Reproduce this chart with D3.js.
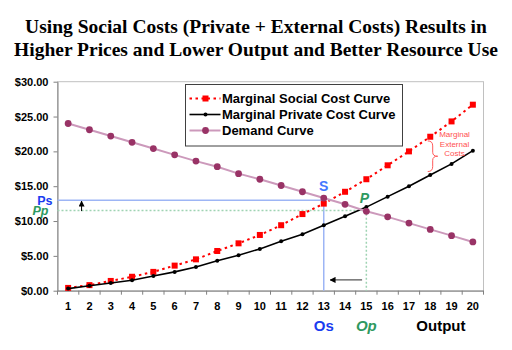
<!DOCTYPE html>
<html>
<head>
<meta charset="utf-8">
<script src="https://cdn.jsdelivr.net/npm/d3@7"></script>
<style>
  body { margin: 0; background: #fff; }
  svg { display: block; font-family: "Liberation Sans", Arial, sans-serif; }
</style>
</head>
<body>
<svg width="512" height="350"></svg>
<script>
'use strict';
// chart data
const output_levels = [1, 2, 3, 4, 5, 6, 7, 8, 9, 10, 11, 12, 13, 14, 15, 16, 17, 18, 19, 20];
const marginal_social_cost = [0.4, 0.8, 1.4, 2.0, 2.7, 3.6, 4.5, 5.7, 6.8, 8.0, 9.4, 11.0, 12.5, 14.2, 16.0, 18.0, 20.0, 22.1, 24.3, 26.7];
const marginal_private_cost = [0.3, 0.7, 1.1, 1.5, 2.1, 2.7, 3.4, 4.3, 5.1, 6.0, 7.1, 8.1, 9.4, 10.7, 12.0, 13.5, 15.0, 16.6, 18.2, 20.1];
const demand = [24.0, 23.1, 22.2, 21.3, 20.4, 19.5, 18.6, 17.8, 16.8, 16.0, 15.1, 14.2, 13.3, 12.4, 11.4, 10.6, 9.7, 8.8, 7.9, 7.0];
const y_ticks = [0, 5, 10, 15, 20, 25, 30];
const series_names = ['Marginal Social Cost Curve', 'Marginal Private Cost Curve', 'Demand Curve'];
const title_lines = ['Using Social Costs (Private + External Costs) Results in',
  'Higher Prices and Lower Output and Better Resource Use'];
const external_cost_lines = ['Marginal', 'External', 'Costs'];

// equilibrium points
const price_social = 13.0;
const price_private = 11.5;
const output_social = 13;
const output_private = 15;

const svg = d3.select('svg');
const plot = {left: 57.5, right: 483.5, top: 81.7, bottom: 290.7};

const x_scale = d3.scaleBand().domain(output_levels).range([plot.left, plot.right]);
const half_band = x_scale.bandwidth() / 2;
// continuous version of the category positions, for annotations
const x_lin = d3.scaleLinear().domain([1, 20]).range([x_scale(1) + half_band, x_scale(20) + half_band]);
const y_scale = d3.scaleLinear().domain([0, 30]).range([plot.bottom, plot.top]);

const defs = svg.append('defs');
defs.append('marker')
  .attr('id', 'head')
  .attr('viewBox', '0 0 10 10')
  .attr('refX', 9).attr('refY', 5)
  .attr('markerWidth', 6).attr('markerHeight', 6)
  .attr('markerUnits', 'userSpaceOnUse')
  .attr('orient', 'auto')
  .append('path').attr('d', 'M0,0L10,5L0,10Z').attr('fill', '#000');

//title
svg.append('g')
  .attr('font-family', '"Liberation Serif", "Times New Roman", serif')
  .attr('font-weight', 'bold')
  .attr('font-size', 19.5)
  .attr('text-anchor', 'middle')
  .selectAll('text').data(title_lines).enter()
  .append('text')
    .attr('x', 256)
    .attr('y', (d, i) => 33 + i * 23)
    .text(d => d);

//plot frame
svg.append('rect')
  .attr('x', plot.left).attr('y', plot.top)
  .attr('width', plot.right - plot.left).attr('height', plot.bottom - plot.top)
  .attr('fill', 'none').attr('stroke', '#c0c0c0');

//y axis
const y_axis = svg.append('g')
  .attr('transform', `translate(${plot.left},0)`)
  .call(d3.axisLeft(y_scale).tickValues(y_ticks).tickFormat(d3.format('$.2f'))
    .tickSize(4).tickSizeOuter(0).tickPadding(5))
  .attr('font-family', '"Liberation Sans", Arial, sans-serif')
  .attr('font-size', 11)
  .attr('font-weight', 'bold');
y_axis.selectAll('line,path').attr('stroke', '#808080');
y_axis.selectAll('text').attr('fill', '#000');

//x axis
const x_axis = svg.append('g')
  .attr('transform', `translate(0,${plot.bottom})`)
  .call(d3.axisBottom(x_scale).tickSize(0).tickSizeOuter(0).tickPadding(12))
  .attr('font-family', '"Liberation Sans", Arial, sans-serif')
  .attr('font-size', 11)
  .attr('font-weight', 'bold');
x_axis.selectAll('path').attr('stroke', '#808080');
x_axis.selectAll('text').attr('fill', '#000');
x_axis.selectAll('.edge').data(output_levels.map(q => x_scale(q)).concat([plot.right])).enter()
  .append('line')
    .attr('x1', d => d).attr('x2', d => d)
    .attr('y1', 0).attr('y2', 4)
    .attr('stroke', '#808080');

//equilibrium guide lines
svg.append('path')
  .attr('d', `M${plot.left},${y_scale(price_social)}H${x_lin(output_social)}V${plot.bottom}`)
  .attr('fill', 'none').attr('stroke', '#9db5f5').attr('stroke-width', 1.5);
svg.append('path')
  .attr('d', `M${plot.left},${y_scale(price_private)}H${x_lin(output_private)}V${plot.bottom}`)
  .attr('fill', 'none').attr('stroke', '#9fd3b3').attr('stroke-width', 1.5)
  .attr('stroke-dasharray', '2,2');

//arrows
svg.append('line')
  .attr('x1', x_lin(1.63)).attr('x2', x_lin(1.63))
  .attr('y1', y_scale(price_private) + 0.5).attr('y2', y_scale(price_social) + 1)
  .attr('stroke', '#000').attr('stroke-width', 1).attr('marker-end', 'url(#head)');
svg.append('line')
  .attr('x1', x_lin(14.8)).attr('x2', x_lin(13.3))
  .attr('y1', y_scale(1.55)).attr('y2', y_scale(1.55))
  .attr('stroke', '#555').attr('stroke-width', 1.2).attr('marker-end', 'url(#head)');

//series
const line = d3.line()
  .x((d, i) => x_scale(output_levels[i]) + half_band)
  .y(d => y_scale(d));

svg.append('path').datum(marginal_social_cost)
  .attr('d', line).attr('fill', 'none')
  .attr('stroke', '#ff0000').attr('stroke-width', 2).attr('stroke-dasharray', '2.5,3.5');
svg.append('g').selectAll('rect').data(marginal_social_cost).enter()
  .append('rect')
    .attr('x', (d, i) => x_scale(output_levels[i]) + half_band - 3)
    .attr('y', d => y_scale(d) - 3)
    .attr('width', 6).attr('height', 6)
    .attr('fill', '#ff0000');

svg.append('path').datum(marginal_private_cost)
  .attr('d', line).attr('fill', 'none')
  .attr('stroke', '#000').attr('stroke-width', 1.6);
svg.append('g').selectAll('circle').data(marginal_private_cost).enter()
  .append('circle')
    .attr('cx', (d, i) => x_scale(output_levels[i]) + half_band)
    .attr('cy', d => y_scale(d))
    .attr('r', 2)
    .attr('fill', '#000');

svg.append('path').datum(demand)
  .attr('d', line).attr('fill', 'none')
  .attr('stroke', '#cc99bb').attr('stroke-width', 2);
svg.append('g').selectAll('circle').data(demand).enter()
  .append('circle')
    .attr('cx', (d, i) => x_scale(output_levels[i]) + half_band)
    .attr('cy', d => y_scale(d))
    .attr('r', 3.4)
    .attr('fill', '#993366');

//marginal external cost brace
const bx = x_lin(17.88);
const by0 = y_scale(21.5);
const by1 = y_scale(17.1);
const bym = (by0 + by1) / 2;
svg.append('path')
  .attr('d', `M${bx},${by0}Q${bx + 5},${by0} ${bx + 5},${by0 + 5}L${bx + 5},${bym - 4}` +
    `Q${bx + 5},${bym} ${bx + 10},${bym}Q${bx + 5},${bym} ${bx + 5},${bym + 4}` +
    `L${bx + 5},${by1 - 5}Q${bx + 5},${by1} ${bx},${by1}`)
  .attr('fill', 'none').attr('stroke', '#ff5a5a').attr('stroke-width', 1);
svg.append('g')
  .attr('font-size', 8)
  .attr('fill', '#ff5050')
  .attr('text-anchor', 'middle')
  .selectAll('text').data(external_cost_lines).enter()
  .append('text')
    .attr('x', x_lin(19.14))
    .attr('y', (d, i) => y_scale(22.05) + i * 9.5)
    .text(d => d);

//point labels
svg.append('text')
  .attr('x', x_lin(output_social)).attr('y', y_scale(price_social) - 9)
  .attr('text-anchor', 'middle')
  .attr('font-size', 14).attr('font-weight', 'bold')
  .attr('fill', '#4477ff').text('S');
svg.append('text')
  .attr('x', x_lin(output_private) - 2).attr('y', y_scale(price_private) - 8)
  .attr('text-anchor', 'middle')
  .attr('font-size', 14).attr('font-weight', 'bold').attr('font-style', 'italic')
  .attr('fill', '#2e9960').text('P');

svg.append('text')
  .attr('x', plot.left - 5).attr('y', y_scale(price_social) + 4.5)
  .attr('text-anchor', 'end')
  .attr('font-size', 12.5).attr('font-weight', 'bold')
  .attr('fill', '#1a3cf0').text('Ps');
svg.append('text')
  .attr('x', plot.left - 9).attr('y', y_scale(price_private) + 4)
  .attr('text-anchor', 'end')
  .attr('font-size', 12.5).attr('font-weight', 'bold').attr('font-style', 'italic')
  .attr('fill', '#2e9960').text('Pp');

svg.append('text')
  .attr('x', x_lin(output_social)).attr('y', 331)
  .attr('text-anchor', 'middle')
  .attr('font-size', 15).attr('font-weight', 'bold')
  .attr('fill', '#1a3cf0').text('Os');
svg.append('text')
  .attr('x', x_lin(output_private)).attr('y', 331)
  .attr('text-anchor', 'middle')
  .attr('font-size', 15).attr('font-weight', 'bold').attr('font-style', 'italic')
  .attr('fill', '#2e9960').text('Op');
svg.append('text')
  .attr('x', x_lin(18.5)).attr('y', 331)
  .attr('text-anchor', 'middle')
  .attr('font-size', 15).attr('font-weight', 'bold')
  .attr('fill', '#000').text('Output');

//legend
const legend_g = svg.append('g').attr('transform', 'translate(185.5,84.5)');
legend_g.append('rect')
  .attr('width', 217).attr('height', 61.5)
  .attr('fill', '#fff').attr('stroke', '#404040');
const legend_rows = legend_g.selectAll('.row').data(series_names).enter()
  .append('g')
    .attr('transform', (d, i) => `translate(0,${14 + i * 16})`);
legend_rows.append('line')
  .attr('x1', 4).attr('x2', 35).attr('y1', 0).attr('y2', 0)
  .attr('stroke', (d, i) => ['#ff0000', '#000', '#cc99bb'][i])
  .attr('stroke-width', (d, i) => [2, 1.6, 2][i])
  .attr('stroke-dasharray', (d, i) => i === 0 ? '2.5,3.5' : null);
legend_rows.filter((d, i) => i === 0).append('rect')
  .attr('x', 17).attr('y', -3).attr('width', 6).attr('height', 6).attr('fill', '#ff0000');
legend_rows.filter((d, i) => i === 1).append('circle')
  .attr('cx', 20).attr('r', 2).attr('fill', '#000');
legend_rows.filter((d, i) => i === 2).append('circle')
  .attr('cx', 20).attr('r', 3.4).attr('fill', '#993366');
legend_rows.append('text')
  .attr('x', 36.5).attr('dy', '0.36em')
  .attr('font-size', 13).attr('font-weight', 'bold')
  .text(d => d);
</script>
</body>
</html>
